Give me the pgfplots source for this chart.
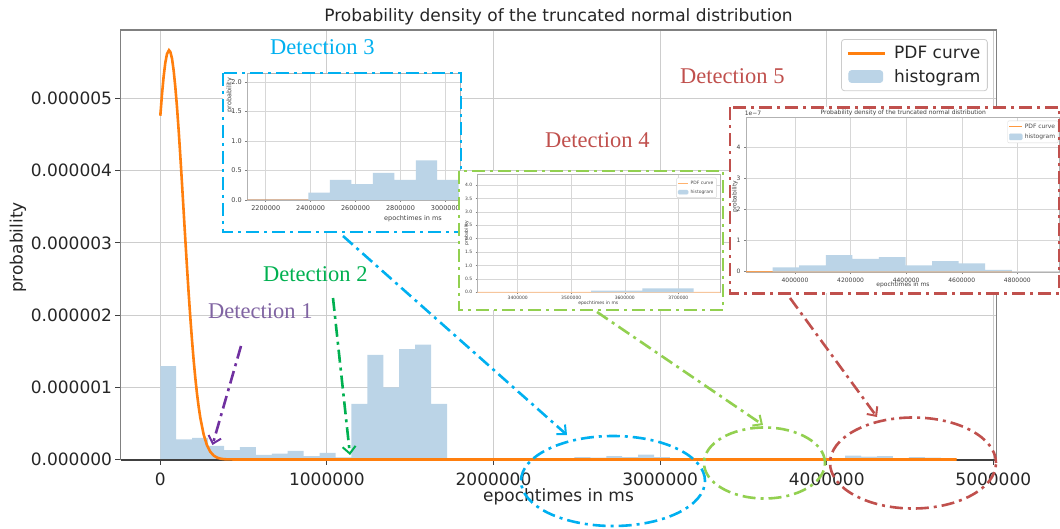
\documentclass[border=0pt]{standalone}
\usepackage{fontspec}
\setmainfont{DejaVu Sans}
\newfontfamily\detfont{Liberation Serif}
\usepackage{pgfplots}
\usepackage{pgfplotstable}
\pgfplotsset{compat=1.18}
\usetikzlibrary{arrows.meta}

\definecolor{mplorange}{HTML}{FF7F0E}
\definecolor{histblue}{RGB}{187,212,231}
\definecolor{detblue}{HTML}{00B0F0}
\definecolor{detgreen}{HTML}{00B050}
\definecolor{detlime}{HTML}{92D050}
\definecolor{detred}{HTML}{C0504D}
\definecolor{detpurple}{HTML}{7030A0}
\definecolor{detlav}{HTML}{8064A2}
\definecolor{spine}{RGB}{128,128,128}
\definecolor{gridc}{RGB}{205,205,205}
\definecolor{insetorange}{RGB}{205,140,95}

\pgfplotstableread{
x y
0 1.294
95600 0.280
191200 0.300
286800 0.190
382400 0.130
478000 0.170
573600 0.065
669200 0.083
764800 0.120
860400 0.046
956000 0.093
1051600 0.030
1147200 0.770
1242800 1.450
1338400 1.000
1434000 1.530
1529600 1.590
1625200 0.770
1720800 0
1816400 0
1912000 0
2007600 0
2103200 0
2198800 0
2294400 0
2390000 0.0124
2485600 0.034
2581200 0.027
2676800 0.046
2772400 0.034
2868000 0.067
2963600 0.034
3059200 0.012
3154800 0
3250400 0
3346000 0
3441600 0
3537200 0.0062
3632800 0.015
3728400 0
3824000 0
3919600 0.014
4015200 0.020
4110800 0.053
4206400 0.041
4302000 0.047
4397600 0.020
4493200 0.034
4588800 0.027
4684400 0.006
4780000 0
}\histtable

\pgfplotstableread{
x y
0 4.762
10000 5.057
20000 5.307
30000 5.497
40000 5.617
52000 5.670
60000 5.647
70000 5.558
80000 5.390
90000 5.162
100000 4.886
110000 4.564
120000 4.207
130000 3.829
140000 3.439
150000 3.050
160000 2.670
170000 2.307
180000 1.969
190000 1.659
200000 1.378
210000 1.131
220000 0.916
230000 0.733
240000 0.579
260000 0.347
280000 0.198
300000 0.107
320000 0.055
340000 0.027
360000 0.012
380000 0.005
400000 0.002
450000 0
4780000 0
}\pdftable

\pgfplotsset{
 insetax/.style={
  scale only axis, anchor=north west,
  grid=major, grid style={color=gridc!80, line width=0.5pt},
  axis line style={color=black!30, line width=0.6pt},
  tick align=outside, tick pos=left,
  major tick length=2pt, tick style={color=black!50, line width=0.5pt},
  scaled ticks=false,
  tick label style={text=black!75},
  legend cell align=left,
 },
}
\tikzset{dd/.style={line width=2.6pt, dash pattern=on 13pt off 5pt on 3pt off 5pt},
 arr/.style={dd, -{Straight Barb[length=7pt,width=13pt,line width=2pt]}}}

\begin{document}
\begin{tikzpicture}
\path[use as bounding box] (0pt,0pt) rectangle (1060pt,-529pt);

% ---------------- main axis ----------------
\begin{axis}[
 at={(120.5pt,-30pt)}, anchor=north west,
 scale only axis, width=876pt, height=429.5pt,
 xmin=-239000, xmax=5019000, ymin=0, ymax=5.95,
 clip=false,
 xtick={0,1000000,2000000,3000000,4000000,5000000},
 xticklabels={0,1000000,2000000,3000000,4000000,5000000},
 ytick={0,1,2,3,4,5},
 yticklabels={0.000000,0.000001,0.000002,0.000003,0.000004,0.000005},
 scaled ticks=false,
 tick align=outside, tick pos=left,
 major tick length=5pt,
 tick style={color=black!75, line width=1pt},
 grid=major, grid style={color=gridc, line width=1pt},
 axis line style={color=spine, line width=1.3pt},
 tick label style={font=\fontsize{17}{20}\selectfont, text=black!85},
 xticklabel style={yshift=-5pt},
 legend style={at={(0.990,0.979)}, anchor=north east, draw=black!20, line width=0.8pt,
   rounded corners=3pt, fill=white, font=\fontsize{17}{20}\selectfont, text=black!85,
   inner xsep=5pt, inner ysep=5pt, row sep=5pt},
 legend cell align=left,
]
\addlegendimage{legend image code/.code={\draw[mplorange, line width=2.6pt] (0pt,0pt) -- (37pt,0pt); \path (44pt,0pt);}}
\addlegendentry{PDF curve}
\addlegendimage{legend image code/.code={\fill[histblue] (1pt,-6pt) rectangle (35pt,6pt); \path (44pt,0pt);}}
\addlegendentry{histogram}
\addplot[ybar interval, fill=histblue, draw=none, forget plot] table[x=x,y=y] {\histtable};
\addplot[black!75, line width=2pt, forget plot] coordinates {(-239000,0) (5019000,0)};
\addplot[mplorange, line width=2.6pt, forget plot] table[x=x,y=y] {\pdftable};
\end{axis}

\node[font=\fontsize{17}{20}\selectfont, text=black!85] at (558.5pt,-17pt) {Probability density of the truncated normal distribution};
\node[font=\fontsize{17}{20}\selectfont, text=black!85] at (558.5pt,-497pt) {epochtimes in ms};
\node[font=\fontsize{17}{20}\selectfont, text=black!85, rotate=90] at (18pt,-247.5pt) {probability};

% ---------------- inset 3 ----------------
\begin{scope}
\clip (223pt,-73pt) rectangle (461pt,-232pt);
\fill[white] (223pt,-73pt) rectangle (461pt,-232pt);
\begin{axis}[insetax, at={(247.3pt,-73pt)}, width=212.7pt, height=127pt,
 xmin=2118000, xmax=3065000, ymin=0, ymax=2.15,
 xtick={2200000,2400000,2600000,2800000,3000000},
 xticklabels={2200000,2400000,2600000,2800000,3000000},
 ytick={0,0.5,1,1.5,2}, yticklabels={0.0,0.5,1.0,1.5,2.0},
 tick label style={font=\fontsize{6.5}{7}\selectfont}]
\addplot[insetorange, line width=1pt] table[x=x, y expr=\thisrow{y}*10] {\pdftable};
\addplot[ybar interval, fill=histblue, draw=none] table[x=x, y expr=\thisrow{y}*10] {\histtable};
\end{axis}
\node[rotate=90, font=\fontsize{6.5}{7}\selectfont, text=black!75] at (229.5pt,-95pt) {probability};
\node[font=\fontsize{6.5}{7}\selectfont, text=black!75] at (413pt,-219pt) {epochtimes in ms};
\end{scope}
\draw[detblue, dd] (223pt,-73pt) rectangle (461pt,-232pt);

% ---------------- inset 4 ----------------
\begin{scope}
\clip (459pt,-171pt) rectangle (723pt,-310pt);
\fill[white] (459pt,-171pt) rectangle (723pt,-310pt);
\begin{axis}[insetax, at={(477.7pt,-174.3pt)}, width=242.3pt, height=118pt,
 xmin=3325300, xmax=3777900, ymin=0, ymax=4.4,
 xtick={3400000,3500000,3600000,3700000},
 xticklabels={3400000,3500000,3600000,3700000},
 ytick={0,0.5,1,1.5,2,2.5,3,3.5,4}, yticklabels={0.0,0.5,1.0,1.5,2.0,2.5,3.0,3.5,4.0},
 tick label style={font=\fontsize{4.5}{5}\selectfont},
 xticklabel style={yshift=1.2pt},
 legend style={at={(0.986,0.971)}, anchor=north east, draw=black!15, line width=0.4pt,
   rounded corners=1pt, font=\fontsize{4.5}{5}\selectfont, text=black!70, inner sep=1pt, row sep=0pt}]
\addlegendimage{legend image code/.code={\draw[mplorange!60, line width=1pt] (0pt,0pt) -- (10pt,0pt);}}
\addlegendentry{PDF curve}
\addlegendimage{legend image code/.code={\fill[histblue] (0pt,-2pt) rectangle (10pt,2pt);}}
\addlegendentry{histogram}
\addplot[mplorange!45, line width=1pt, forget plot] table[x=x, y expr=\thisrow{y}*10] {\pdftable};
\addplot[ybar interval, fill=histblue, draw=none, forget plot] table[x=x, y expr=\thisrow{y}*10] {\histtable};
\end{axis}
\node[rotate=90, font=\fontsize{4.5}{5}\selectfont, text=black!75] at (466.7pt,-233pt) {probability};
\node[font=\fontsize{4.5}{5}\selectfont, text=black!75] at (598.3pt,-303.5pt) {epochtimes in ms};
\end{scope}
\draw[detlime, dd] (459pt,-171pt) rectangle (723pt,-310pt);

% ---------------- inset 5 ----------------
\begin{scope}
\clip (730pt,-107.3pt) rectangle (1060pt,-293.3pt);
\fill[white] (730pt,-107.3pt) rectangle (1060pt,-293.3pt);
\begin{axis}[insetax, at={(746pt,-117.3pt)}, width=313.3pt, height=155pt,
 xmin=3823700, xmax=4951000, ymin=-0.02, ymax=4.95,
 xtick={4000000,4200000,4400000,4600000,4800000},
 xticklabels={4000000,4200000,4400000,4600000,4800000},
 ytick={0,1,2,3,4}, yticklabels={0,1,2,3,4},
 tick label style={font=\fontsize{6}{7}\selectfont},
 legend style={at={(0.997,0.978)}, anchor=north east, draw=black!15, line width=0.4pt,
   rounded corners=1pt, font=\fontsize{6}{7}\selectfont, text=black!70, inner sep=1pt, row sep=0pt}]
\addlegendimage{legend image code/.code={\draw[mplorange!80, line width=1pt] (0pt,0pt) -- (13pt,0pt);}}
\addlegendentry{PDF curve}
\addlegendimage{legend image code/.code={\fill[histblue] (0pt,-3pt) rectangle (13pt,3pt);}}
\addlegendentry{histogram}
\addplot[mplorange!80, line width=1pt, forget plot] table[x=x, y expr=\thisrow{y}*10] {\pdftable};
\addplot[ybar interval, fill=histblue, draw=none, forget plot] table[x=x, y expr=\thisrow{y}*10] {\histtable};
\end{axis}
\node[font=\fontsize{6}{7}\selectfont, text=black!75] at (903.3pt,-113.3pt) {Probability density of the truncated normal distribution};
\node[font=\fontsize{6}{7}\selectfont, text=black!75] at (753pt,-113pt) {1e−7};
\node[rotate=90, font=\fontsize{6}{7}\selectfont, text=black!75] at (735pt,-196.7pt) {probability};
\node[font=\fontsize{6}{7}\selectfont, text=black!75] at (903pt,-285pt) {epochtimes in ms};
\end{scope}
\draw[detred, dd] (730pt,-107.3pt) rectangle (1059pt,-293.3pt);

% ---------------- arrows and ellipses ----------------
\draw[detpurple, arr] (241pt,-346pt) -- (212.5pt,-445pt);
\draw[detgreen, arr] (333pt,-298pt) -- (350pt,-455pt);
\draw[detblue, arr] (343pt,-236pt) -- (567pt,-435pt);
\draw[detlime, arr] (597pt,-312pt) -- (763pt,-425pt);
\draw[detred, arr] (790pt,-298pt) -- (877pt,-417pt);

\draw[detblue, dd] (613pt,-481pt) ellipse [x radius=92pt, y radius=45pt];
\draw[detlime, dd] (764.5pt,-463pt) ellipse [x radius=60.5pt, y radius=35.5pt];
\draw[detred, dd] (913pt,-463pt) ellipse [x radius=83pt, y radius=45.5pt];

% ---------------- detection labels ----------------
\node[anchor=west, inner sep=0pt, font=\detfont\fontsize{22.5}{25}\selectfont, text=detblue] at (270pt,-47pt) {Detection 3};
\node[anchor=west, inner sep=0pt, font=\detfont\fontsize{22.5}{25}\selectfont, text=detred] at (680pt,-76pt) {Detection 5};
\node[anchor=west, inner sep=0pt, font=\detfont\fontsize{22.5}{25}\selectfont, text=detred] at (545pt,-140pt) {Detection 4};
\node[anchor=west, inner sep=0pt, font=\detfont\fontsize{22.5}{25}\selectfont, text=detgreen] at (263pt,-274pt) {Detection 2};
\node[anchor=west, inner sep=0pt, font=\detfont\fontsize{22.5}{25}\selectfont, text=detlav] at (208pt,-311.5pt) {Detection 1};
\end{tikzpicture}
\end{document}
